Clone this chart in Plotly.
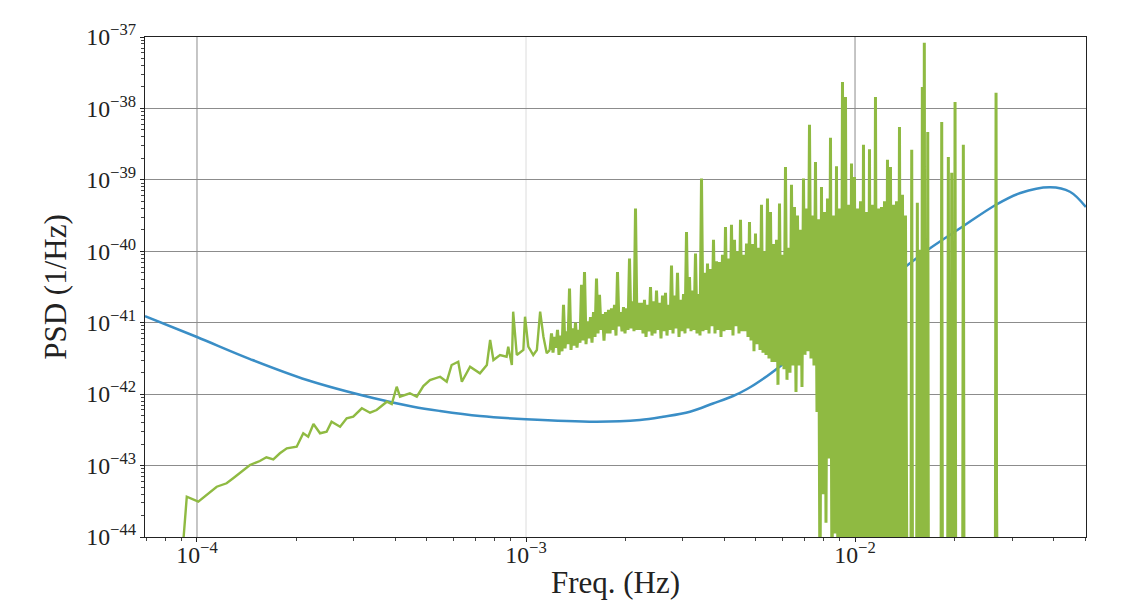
import numpy as np
import plotly.graph_objects as go

# ---------------- data ----------------
# Blue curve (smooth PSD): frequency (Hz) and PSD (1/Hz)
blue_freq = [6.95e-5, 1.0e-4, 1.45e-4, 2.16e-4, 3.43e-4, 4.54e-4, 5.48e-4, 7.24e-4,
             1.0e-3, 1.64e-3, 2.22e-3, 2.61e-3, 3.15e-3, 3.70e-3, 4.26e-3, 4.70e-3,
             5.41e-3, 6.49e-3, 9.66e-3, 1.42e-2, 1.69e-2, 2.08e-2, 2.69e-2, 3.18e-2,
             3.92e-2, 4.50e-2, 5.03e-2]
blue_psd = [1.24e-41, 6.31e-42, 3.10e-42, 1.58e-42, 8.83e-43, 6.67e-43, 5.81e-43, 4.94e-43,
            4.45e-43, 4.11e-43, 4.35e-43, 4.83e-43, 5.68e-43, 7.40e-43, 9.42e-43, 1.18e-42,
            1.80e-42, 3.42e-42, 1.46e-41, 6.03e-41, 1.10e-40, 2.08e-40, 4.52e-40, 6.55e-40,
            7.87e-40, 6.82e-40, 4.17e-40]

# Green periodogram, low-frequency part: log10(freq), log10(PSD)
green_low_log10_freq = [
    -4.046, -4.031, -3.996, -3.940, -3.910, -3.890, -3.839, -3.809, -3.789, -3.768,
    -3.748, -3.727, -3.697, -3.677, -3.662, -3.646, -3.626, -3.606, -3.591, -3.565,
    -3.545, -3.525, -3.499, -3.474, -3.454, -3.423, -3.408, -3.393, -3.383, -3.353,
    -3.332, -3.312, -3.292, -3.261, -3.241, -3.226, -3.206, -3.195, -3.170, -3.140,
    -3.119, -3.109, -3.099, -3.079, -3.059, -3.054, -3.043, -3.039, -3.028, -3.008,
    -3.003, -2.993, -2.978, -2.967, -2.957, -2.947, -2.937]
green_low_log10_psd = [
    -44.32, -43.436, -43.506, -43.296, -43.248, -43.178, -42.992, -42.936, -42.884, -42.912,
    -42.828, -42.758, -42.736, -42.548, -42.596, -42.418, -42.548, -42.526, -42.386, -42.456,
    -42.338, -42.316, -42.198, -42.260, -42.222, -42.106, -42.138, -41.896, -42.036, -41.988,
    -42.036, -41.886, -41.802, -41.756, -41.826, -41.592, -41.546, -41.826, -41.616, -41.708,
    -41.592, -41.242, -41.522, -41.452, -41.476, -41.336, -41.592, -40.846, -41.452, -41.382,
    -40.916, -41.336, -41.452, -41.382, -40.846, -41.196, -41.428]

# Green periodogram, dense band: evenly log-spaced bins from band_f_start to band_f_stop
band_f_start = 1.1829e-3
band_f_stop = 1.469e-2
green_band_log10_psd = [
    -41.38, -41.15, -41.42, -41.20, -41.35, -41.10, -41.45, -41.18, -41.40, -40.75,
    -41.36, -41.12, -41.30, -40.52, -41.38, -41.08, -41.32, -41.00, -41.35, -41.10,
    -41.28, -40.47, -41.25, -40.29, -41.30, -40.98, -41.22, -40.92, -41.28, -40.85,
    -41.20, -40.38, -41.15, -40.61, -41.10, -40.88, -41.25, -40.85, -41.15, -40.82,
    -41.15, -40.80, -41.10, -40.75, -41.18, -40.29, -41.05, -40.85, -41.12, -40.78,
    -41.15, -40.80, -41.10, -40.10, -41.08, -40.70, -41.12, -39.40, -41.10, -40.72,
    -41.10, -40.72, -41.15, -40.68, -41.20, -40.75, -41.12, -40.50, -41.18, -40.70,
    -41.15, -40.55, -41.10, -40.72, -41.22, -40.62, -41.12, -40.58, -41.18, -40.75,
    -41.10, -40.20, -41.15, -40.62, -41.08, -40.30, -41.20, -40.68, -41.12, -40.60,
    -41.15, -39.73, -41.08, -40.36, -41.12, -40.55, -41.10, -40.03, -41.15, -40.60,
    -41.18, -38.98, -41.12, -40.30, -41.10, -40.17, -41.15, -40.25, -41.05, -39.84,
    -41.15, -40.14, -41.10, -40.15, -41.20, -40.05, -41.12, -39.66, -41.10, -40.10,
    -41.10, -39.63, -41.18, -39.84, -41.05, -40.00, -41.15, -39.56, -41.12, -40.05,
    -41.12, -39.89, -41.20, -39.59, -41.25, -39.90, -41.40, -39.75, -41.30, -39.95,
    -41.38, -39.35, -41.42, -40.00, -41.45, -39.26, -41.50, -39.45, -41.55, -39.90,
    -41.55, -39.84, -41.87, -39.33, -41.60, -40.05, -41.65, -38.82, -41.80, -39.95,
    -41.70, -39.07, -41.60, -39.38, -41.97, -39.50, -41.60, -39.70, -41.90, -38.98,
    -41.45, -39.40, -41.40, -38.23, -41.50, -39.50, -41.60, -38.75, -42.25, -39.55,
    -45.00, -39.10, -43.40, -39.45, -43.80, -39.26, -42.90, -38.41, -45.00, -39.50,
    -43.95, -38.81, -45.00, -39.40, -44.50, -37.63, -45.00, -37.84, -44.30, -39.35,
    -45.00, -38.77, -44.60, -38.96, -45.00, -39.40, -45.00, -39.30, -44.80, -38.51,
    -45.00, -39.45, -45.00, -38.57, -45.00, -39.35, -45.00, -37.84, -45.00, -39.40,
    -45.00, -39.38, -45.00, -39.30, -45.00, -38.72, -45.00, -38.82, -45.00, -39.35,
    -45.00, -39.30, -45.00, -38.26, -45.00, -39.21, -45.00, -39.50, -45.00, -45.00]

# Green periodogram, high-frequency isolated lines: log10(freq), log10(PSD)
green_high_log10_freq = [
    -1.8301, -1.8277, -1.8252, -1.8128, -1.8106, -1.8082, -1.8040, -1.8018,
    -1.7976, -1.7954, -1.7933, -1.7915, -1.7894, -1.7872, -1.7812, -1.7790, -1.7769,
    -1.7386, -1.7365, -1.7343, -1.7185, -1.7164, -1.7143, -1.7082, -1.7061, -1.7040,
    -1.6982, -1.6960, -1.6939, -1.6729, -1.6708, -1.6687,
    -1.5736, -1.5714, -1.5699, -1.5678, -1.2979]
green_high_log10_psd = [
    -45, -38.58, -45, -45, -39.32, -45, -39.98, -45,
    -45, -37.70, -45, -45, -37.08, -45, -45, -38.33, -45,
    -45, -38.19, -45, -45, -38.68, -45, -45, -38.90, -45,
    -45, -37.91, -45, -45, -38.51, -45,
    -45, -37.78, -43.38, -45, -45]

# Axes
x_range_log = [-4.158, -1.298]
y_range_log = [-44, -37]
x_grid_freqs = [1e-4, 1e-3, 1e-2]
x_grid_colors = ["#8c8c8c", "#dcdcdc", "#8c8c8c"]

# ---------------- build ----------------
low_freq = 10 ** np.array(green_low_log10_freq)
low_psd = 10 ** np.array(green_low_log10_psd)
band_freq = np.logspace(np.log10(band_f_start), np.log10(band_f_stop),
                        len(green_band_log10_psd), endpoint=False)
band_psd = 10 ** np.array(green_band_log10_psd)
high_freq = 10 ** np.array(green_high_log10_freq)
high_psd = 10 ** np.array(green_high_log10_psd)

BLUE = "#3a8ec6"
GREEN = "#8fba42"
FONT = "Liberation Serif"

fig = go.Figure()
fig.add_trace(go.Scatter(x=blue_freq, y=blue_psd, mode="lines",
                         line=dict(color=BLUE, width=2.5, shape="spline", smoothing=1.0),
                         showlegend=False, hoverinfo="skip"))
# low-frequency part (joined to the first band bin)
fig.add_trace(go.Scatter(x=np.append(low_freq, band_freq[0]),
                         y=np.append(low_psd, band_psd[0]), mode="lines",
                         line=dict(color=GREEN, width=2.4, simplify=False),
                         showlegend=False, hoverinfo="skip"))
# dense band + isolated high-frequency lines
fig.add_trace(go.Scatter(x=np.concatenate([band_freq, high_freq]),
                         y=np.concatenate([band_psd, high_psd]), mode="lines",
                         line=dict(color=GREEN, width=3.0, simplify=False),
                         showlegend=False, hoverinfo="skip"))

shapes = []
for f, c in zip(x_grid_freqs, x_grid_colors):
    xp = (np.log10(f) - x_range_log[0]) / (x_range_log[1] - x_range_log[0])
    shapes.append(dict(type="line", xref="paper", yref="paper", x0=xp, x1=xp, y0=0, y1=1,
                       line=dict(color=c, width=1), layer="below"))

axis_common = dict(
    type="log", showline=True, linecolor="#222222", linewidth=1.3, mirror=True,
    ticks="outside", ticklen=4, tickwidth=1, tickcolor="#222222",
    exponentformat="power", zeroline=False,
    tickfont=dict(family=FONT, size=19, color="#222222"),
    minor=dict(ticks="outside", ticklen=2.5, tickwidth=0.8, tickcolor="#444444",
               showgrid=False),
)

fig.update_layout(
    width=1132, height=612,
    margin=dict(l=145, r=46, t=37, b=75),
    paper_bgcolor="white", plot_bgcolor="white",
    shapes=shapes,
    xaxis=dict(range=x_range_log, showgrid=False, dtick=1, ticklabelstandoff=-7,
               title=dict(text="Freq. (Hz)", font=dict(family=FONT, size=31, color="#222222"),
                          standoff=4),
               **axis_common),
    yaxis=dict(range=y_range_log, showgrid=True, gridcolor="#8c8c8c", gridwidth=1, dtick=1,
               title=dict(text="PSD (1/Hz)", font=dict(family=FONT, size=31, color="#222222"),
                          standoff=10),
               **axis_common),
)

fig.write_html("out.html")
